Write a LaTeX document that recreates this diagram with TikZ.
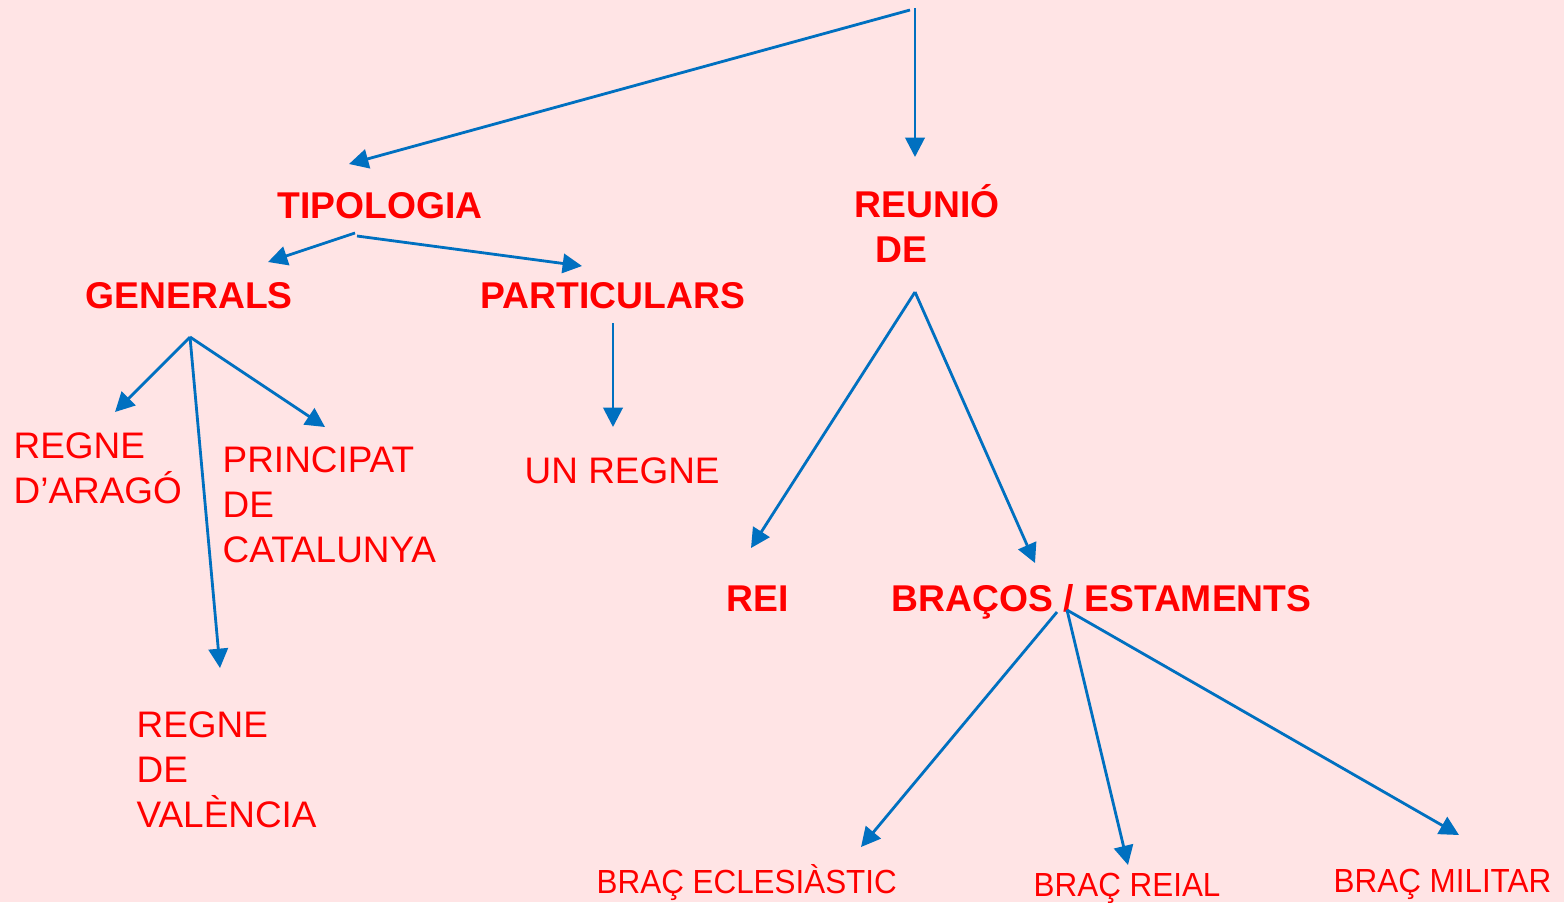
\documentclass[tikz,border=0pt]{standalone}
\usepackage{fontspec}
\setmainfont{Liberation Sans}
\newfontfamily\narrowsans[FakeStretch=0.94]{Liberation Sans}
\usepackage{tikz}
\usetikzlibrary{arrows.meta}
\definecolor{bgpink}{RGB}{255, 228, 229}
\definecolor{textred}{RGB}{255, 0, 0}
\definecolor{flowblue}{RGB}{0, 112, 192}

\begin{document}
\begin{tikzpicture}[
        x=0.01cm, y=-0.01cm,
        heading/.style={inner sep=0pt, anchor=base west, text=textred, font=\fontsize{10.6}{12.7}\selectfont\bfseries},
        item/.style={inner sep=0pt, anchor=base west, align=left, text=textred, font=\fontsize{10.5}{12.7}\selectfont},
        small_item/.style={inner sep=0pt, anchor=base west, text=textred, font=\narrowsans\fontsize{9.5}{11}\selectfont},
        flow/.style={-{Triangle[length=5.5pt, width=5.5pt]}, line width=0.8pt, color=flowblue}
    ]
    
    % Background
    \fill[bgpink] (0,0) rectangle (1564,902);
    \useasboundingbox (0,0) rectangle (1564,902);
    
    % Headings (multi-line nodes sit on their last baseline)
    \node[heading] (tipologia) at (277, 218) {TIPOLOGIA};
    \node[heading, align=left] (reunio) at (854, 262) {REUNIÓ\\\hspace{0.21cm}DE};
    \node[heading] (generals) at (85, 308) {GENERALS};
    \node[heading] (particulars) at (480, 308) {PARTICULARS};
    \node[heading] (rei) at (726, 611) {REI};
    \node[heading] (bracos) at (891, 611) {BRAÇOS / ESTAMENTS};
    
    % Territories
    \node[item] (arago) at (13, 503) {REGNE\\D’ARAGÓ};
    \node[item] (catalunya) at (222, 562) {PRINCIPAT\\DE\\CATALUNYA};
    \node[item] (valencia) at (136, 827) {REGNE\\DE\\VALÈNCIA};
    \node[item] (unregne) at (524, 483) {UN REGNE};
    
    % Estates
    \node[small_item] (eclesiastic) at (596, 893) {BRAÇ ECLESIÀSTIC};
    \node[small_item] (reial) at (1033, 896) {BRAÇ REIAL};
    \node[small_item] (militar) at (1333, 892) {BRAÇ MILITAR};
    
    % Arrow ends
    \coordinate (top_left) at (910, 10);
    \coordinate (top_right) at (915, 8);
    \coordinate (to_tipologia) at (349, 164);
    \coordinate (to_reunio) at (915, 157);
    \coordinate (tipo_left) at (355, 233);
    \coordinate (tipo_right) at (357, 236);
    \coordinate (to_generals) at (268, 262);
    \coordinate (to_particulars) at (582, 266);
    \coordinate (gen_root) at (190, 337);
    \coordinate (to_arago) at (115, 412);
    \coordinate (to_catalunya) at (325, 427);
    \coordinate (to_valencia) at (220, 668);
    \coordinate (part_root) at (613, 323);
    \coordinate (to_unregne) at (613, 427);
    \coordinate (reunio_root) at (915, 292);
    \coordinate (to_rei) at (751, 548);
    \coordinate (to_bracos) at (1035, 563);
    \coordinate (bracos_left) at (1057, 612);
    \coordinate (bracos_right) at (1067, 610);
    \coordinate (to_eclesiastic) at (861, 847);
    \coordinate (to_reial) at (1128, 865);
    \coordinate (to_militar) at (1459, 835);
    
    % Flows
    \draw[flow] (top_left) -- (to_tipologia);
    \draw[flow] (top_right) -- (to_reunio);
    \draw[flow] (tipo_left) -- (to_generals);
    \draw[flow] (tipo_right) -- (to_particulars);
    \draw[flow] (gen_root) -- (to_arago);
    \draw[flow] (gen_root) -- (to_catalunya);
    \draw[flow] (gen_root) -- (to_valencia);
    \draw[flow] (part_root) -- (to_unregne);
    \draw[flow] (reunio_root) -- (to_rei);
    \draw[flow] (reunio_root) -- (to_bracos);
    \draw[flow] (bracos_left) -- (to_eclesiastic);
    \draw[flow] (bracos_right) -- (to_reial);
    \draw[flow] (bracos_right) -- (to_militar);
    
    \end{tikzpicture}
\end{document}
